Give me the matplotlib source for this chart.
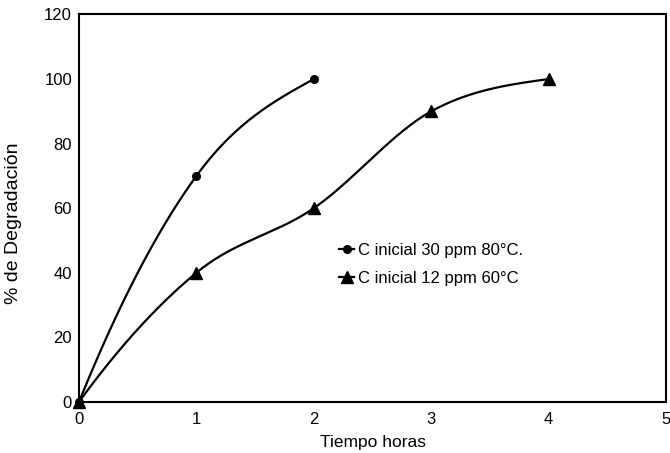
import numpy as np
import matplotlib

matplotlib.use("Agg")

import matplotlib.pyplot as plt  # noqa: E402

plt.rcParams["font.family"] = ["Liberation Sans", "DejaVu Sans"]

# Degradation over time for the two initial concentrations
horas_30ppm = [0, 1, 2]
degr_30ppm = [0, 70, 100]
horas_12ppm = [0, 1, 2, 3, 4]
degr_12ppm = [0, 40, 60, 90, 100]

labels = ["C inicial 30 ppm 80°C.", "C inicial 12 ppm 60°C"]
x_ticks = [0, 1, 2, 3, 4, 5]
y_ticks = [0, 20, 40, 60, 80, 100, 120]


def smooth(xs, ys, n=40, k_start=1.0, k_end=0.5):
    """Cubic Hermite curve through the points.

    Interior slopes are central differences; end slopes lean towards the
    parabola through the three end points (k=1 gives the full parabola).
    """
    x = np.asarray(xs, float)
    y = np.asarray(ys, float)
    sec = np.diff(y) / np.diff(x)
    m = np.empty_like(y)
    m[1:-1] = (y[2:] - y[:-2]) / (x[2:] - x[:-2])
    m[0] = (1 + k_start) * sec[0] - k_start * m[1]
    m[-1] = (1 + k_end) * sec[-1] - k_end * m[-2]
    cx, cy = [], []
    t = np.linspace(0, 1, n)
    h00 = 2 * t ** 3 - 3 * t ** 2 + 1
    h10 = t ** 3 - 2 * t ** 2 + t
    h01 = -2 * t ** 3 + 3 * t ** 2
    h11 = t ** 3 - t ** 2
    for i in range(len(x) - 1):
        h = x[i + 1] - x[i]
        cx.append(x[i] + t * h)
        cy.append(h00 * y[i] + h10 * h * m[i] + h01 * y[i + 1] + h11 * h * m[i + 1])
    return np.concatenate(cx), np.concatenate(cy)


fig = plt.figure(figsize=(6.7, 4.53), dpi=100)
ax = fig.add_axes([0.118, 0.113, 0.876, 0.855])

for xs, ys, mk, ms, lab in [
    (horas_30ppm, degr_30ppm, "o", 5.5, labels[0]),
    (horas_12ppm, degr_12ppm, "^", 8, labels[1]),
]:
    sx, sy = smooth(xs, ys)
    ax.plot(sx, sy, color="black", lw=1.6)
    ax.plot(xs, ys, ls="none", marker=mk, ms=ms, color="black", clip_on=False)
    ax.plot([], [], color="black", lw=1.6, marker=mk, ms=ms, label=lab)

ax.set_xlim(0, 5)
ax.set_ylim(0, 120)
ax.set_xticks(x_ticks)
ax.set_yticks(y_ticks)
ax.tick_params(length=0, labelsize=12)
ax.tick_params(axis="x", pad=7)
ax.tick_params(axis="y", pad=5)
for s in ax.spines.values():
    s.set_linewidth(1.5)

ax.set_xlabel("Tiempo horas", fontsize=12.5, labelpad=6)
ax.set_ylabel("% de Degradación", fontsize=14)
ax.yaxis.set_label_coords(-0.097, 0.462)

ax.legend(
    loc="center left",
    bbox_to_anchor=(0.443, 0.355),
    frameon=False,
    fontsize=12,
    borderpad=0,
    borderaxespad=0,
    handlelength=0.9,
    handletextpad=0.25,
    labelspacing=0.75,
)

fig.savefig("out.png", dpi=100, facecolor="white")
